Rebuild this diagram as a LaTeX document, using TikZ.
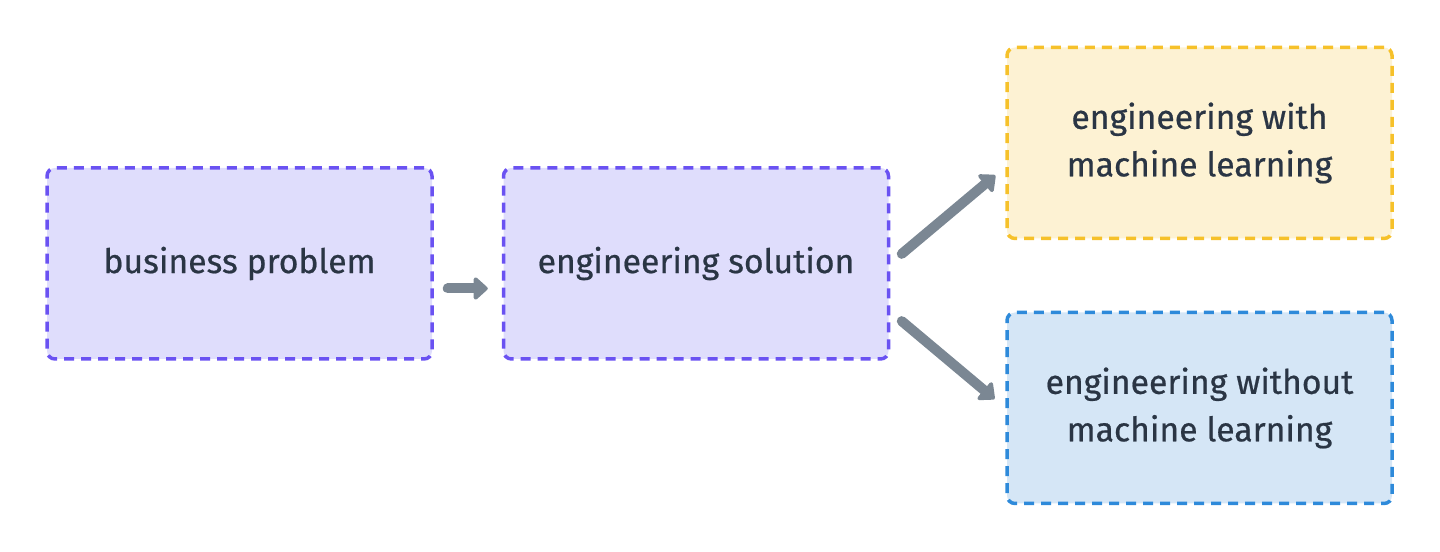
\documentclass[tikz,border=0pt]{standalone}
\usepackage{fontspec}
\setmainfont{Fira Sans}[UprightFeatures = {FakeBold = 0.6}]
\usetikzlibrary{arrows.meta}

\definecolor{txt}{HTML}{2A3544}
\definecolor{arr}{HTML}{7B8793}
\definecolor{purpleline}{HTML}{6A52F2}
\definecolor{purplefill}{HTML}{DFDDFC}
\definecolor{yellowline}{HTML}{F6C12A}
\definecolor{yellowfill}{HTML}{FDF2D3}
\definecolor{blueline}{HTML}{2E8ADA}
\definecolor{bluefill}{HTML}{D5E6F6}

\begin{document}
\begin{tikzpicture}[
    box/.style = {draw, line width = 0.035cm, dash pattern = on 0.1cm off 0.07cm,
        rounded corners = 0.08cm, minimum width = 3.85cm, minimum height = 1.91cm,
        align = center, text = txt, font = \fontsize{9.6}{13.5}\selectfont},
    flow/.style = {-{Triangle[length = 0.15cm, width = 0.26cm, round]}, arr,
        line width = 0.1cm, line cap = round}
  ]
    \useasboundingbox (0, 0) rectangle (14.4, -5.52);

    \node[box, draw = purpleline, fill = purplefill] (problem) at (2.395, -2.635) {business problem};
    \node[box, draw = purpleline, fill = purplefill] (solution) at (6.96, -2.635) {engineering solution};
    \node[box, draw = yellowline, fill = yellowfill] (withml) at (11.995, -1.43) {engineering with\\machine learning};
    \node[box, draw = blueline, fill = bluefill] (withoutml) at (11.995, -4.08) {engineering without\\machine learning};

    \draw[flow, shorten < = 0.14cm, shorten > = 0.14cm]
        ([yshift = -0.25cm] problem.east) -- ([yshift = -0.25cm] solution.west);
    \draw[flow, shorten < = 0.15cm, shorten > = 0.13cm]
        (solution.east) -- ([yshift = -0.24cm] withml.west);
    \draw[flow, shorten < = 0.15cm, shorten > = 0.14cm]
        ([yshift = -0.48cm] solution.east) -- (withoutml.west);

\end{tikzpicture}
\end{document}
